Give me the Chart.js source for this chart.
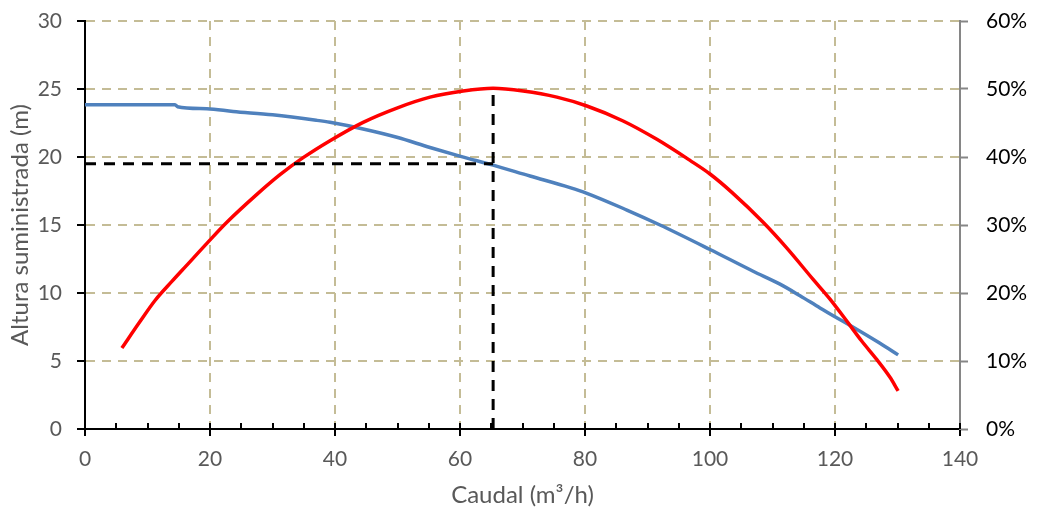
<!DOCTYPE html>
<html>
<head>
<meta charset="utf-8">
<script src="https://cdn.jsdelivr.net/npm/chart.js@4.4.1/dist/chart.umd.min.js"></script>
<style>
  html, body { margin: 0; padding: 0; background: #fff; }
  #wrap { width: 1040px; height: 514px; }
</style>
</head>
<body>
<div id="wrap"><canvas id="myPlot" width="1040" height="514"></canvas></div>
<script>
// altura (m) vs caudal (m3/h)
const alturaX = [0, 14.4, 14.8, 19.5, 23.7, 30, 37, 39.2, 44.5, 49.9, 55.2, 60.1, 65.3, 71.2, 77.6, 80.2, 86.7, 92, 100, 106.9, 111.2, 114.4, 117.6, 120.2, 122.1, 127.2, 130.1];
const alturaY = [23.85, 23.85, 23.7, 23.55, 23.35, 23.1, 22.7, 22.55, 22.06, 21.45, 20.7, 20.05, 19.4, 18.6, 17.75, 17.35, 16.1, 15.0, 13.2, 11.6, 10.65, 9.8, 8.9, 8.2, 7.7, 6.3, 5.45];

// rendimiento (%) vs caudal
const rendX = [5.9, 8.8, 11.2, 13.9, 16.3, 19.5, 22.7, 27.5, 31.2, 34.9, 39.2, 44.5, 49.9, 55.2, 60.5, 65.3, 70.1, 75.5, 80.3, 86.1, 91.5, 96.8, 100, 103.5, 108.5, 112.3, 116.5, 119.2, 122.1, 124.3, 126.7, 128.8, 130.1];
const rendY = [11.9, 15.8, 18.9, 21.7, 24.1, 27.3, 30.4, 34.5, 37.4, 39.9, 42.4, 45.1, 47.2, 48.8, 49.7, 50.1, 49.7, 48.8, 47.5, 45.3, 42.6, 39.5, 37.5, 34.8, 30.4, 26.6, 22.0, 19.1, 15.6, 12.9, 10.2, 7.6, 5.6];

// punto de funcionamiento (lineas de trazos)
const puntoQ = 65.3;
const puntoH = 19.5;
const puntoTop = 25;

const xTicks = [0, 20, 40, 60, 80, 100, 120, 140];
const yTicks = [0, 5, 10, 15, 20, 25, 30];
const y2Ticks = [0, 10, 20, 30, 40, 50, 60];

const gridColor = "#C4BC96";
const labelGray = "#595959";
const tickFont = {family: "Lato", size: 21};
const titleFont = {family: "Lato", size: 24};

function toPoints(xs, ys) {
  return xs.map((x, i) => ({x: x, y: ys[i]}));
}

// small inward ticks on the x axis (every 5)
const minorTicks = {
  id: "minorTicks",
  afterDraw(chart) {
    const sx = chart.scales.x;
    const ctx = chart.ctx;
    const yb = chart.chartArea.bottom;
    ctx.save();
    ctx.strokeStyle = "#000";
    ctx.lineWidth = 2;
    for (let v = 0; v <= 140; v += 5) {
      const px = Math.round(sx.getPixelForValue(v));
      ctx.beginPath();
      ctx.moveTo(px, yb);
      ctx.lineTo(px, yb - 6);
      ctx.stroke();
    }
    ctx.restore();
  }
};

function fitY(w) {
  return (s) => {
    s.width = w;
    s.paddingTop = 0;
    s.paddingBottom = 0;
  };
}

new Chart("myPlot", {
  type: "line",
  data: {
    datasets: [
      {
        label: "h",
        data: [{x: 0, y: puntoH}, {x: puntoQ, y: puntoH}],
        borderColor: "#000",
        borderWidth: 3,
        borderDash: [11, 8],
        pointRadius: 0,
        yAxisID: "y",
        order: 0
      },
      {
        label: "q",
        data: [{x: puntoQ, y: 0}, {x: puntoQ, y: puntoTop}],
        borderColor: "#000",
        borderWidth: 3,
        borderDash: [11, 8],
        pointRadius: 0,
        yAxisID: "y",
        order: 0
      },
      {
        label: "Rendimiento",
        data: toPoints(rendX, rendY),
        borderColor: "#FF0000",
        borderWidth: 3.5,
        pointRadius: 0,
        cubicInterpolationMode: "monotone",
        yAxisID: "y2",
        order: 1
      },
      {
        label: "Altura",
        data: toPoints(alturaX, alturaY),
        borderColor: "#4F81BD",
        borderWidth: 3.5,
        pointRadius: 0,
        cubicInterpolationMode: "monotone",
        yAxisID: "y",
        order: 2
      }
    ]
  },
  options: {
    responsive: false,
    animation: false,
    layout: {padding: {top: 21, left: 0, right: 0, bottom: 0}},
    plugins: {
      legend: {display: false},
      tooltip: {enabled: false}
    },
    scales: {
      x: {
        type: "linear",
        min: 0,
        max: 140,
        afterFit: (s) => { s.height = 85; },
        ticks: {
          stepSize: 5,
          autoSkip: false,
          maxRotation: 0,
          padding: 11,
          color: labelGray,
          font: tickFont,
          callback: (v) => (xTicks.includes(v) ? String(v) : "")
        },
        grid: {
          color: (c) => (c.tick && c.tick.value % 20 === 0 && c.tick.value > 0 && c.tick.value < 140 ? gridColor : "rgba(0,0,0,0)"),
          lineWidth: 2,
          tickLength: 7,
          tickWidth: 2,
          tickColor: (c) => (c.tick && xTicks.includes(c.tick.value) ? "#000" : "rgba(0,0,0,0)")
        },
        border: {color: "#000", width: 2, dash: [9, 7]},
        title: {
          display: true,
          text: "Caudal (m³/h)",
          color: labelGray,
          font: titleFont,
          padding: {top: 0, bottom: 4}
        }
      },
      y: {
        type: "linear",
        position: "left",
        min: 0,
        max: 30,
        afterFit: fitY(85),
        ticks: {
          stepSize: 5,
          padding: 15,
          color: labelGray,
          font: tickFont,
          callback: (v) => (yTicks.includes(v) ? String(v) : "")
        },
        grid: {
          color: (c) => (c.tick && c.tick.value > 0 ? gridColor : "rgba(0,0,0,0)"),
          lineWidth: 2,
          tickLength: 8,
          tickWidth: 2,
          tickColor: "#000"
        },
        border: {color: "#000", width: 2, dash: [9, 7]},
        title: {
          display: true,
          text: "Altura suministrada (m)",
          color: labelGray,
          font: titleFont,
          padding: {top: 6, bottom: 0}
        }
      },
      y2: {
        type: "linear",
        position: "right",
        min: 0,
        max: 60,
        afterFit: fitY(80),
        ticks: {
          stepSize: 10,
          padding: 18,
          color: "#000",
          font: tickFont,
          callback: (v) => (y2Ticks.includes(v) ? v + "%" : "")
        },
        grid: {
          drawOnChartArea: false,
          tickLength: 8,
          tickWidth: 2,
          tickColor: "#868686"
        },
        border: {color: "#868686", width: 2}
      }
    }
  },
  plugins: [minorTicks]
});
</script>
</body>
</html>
